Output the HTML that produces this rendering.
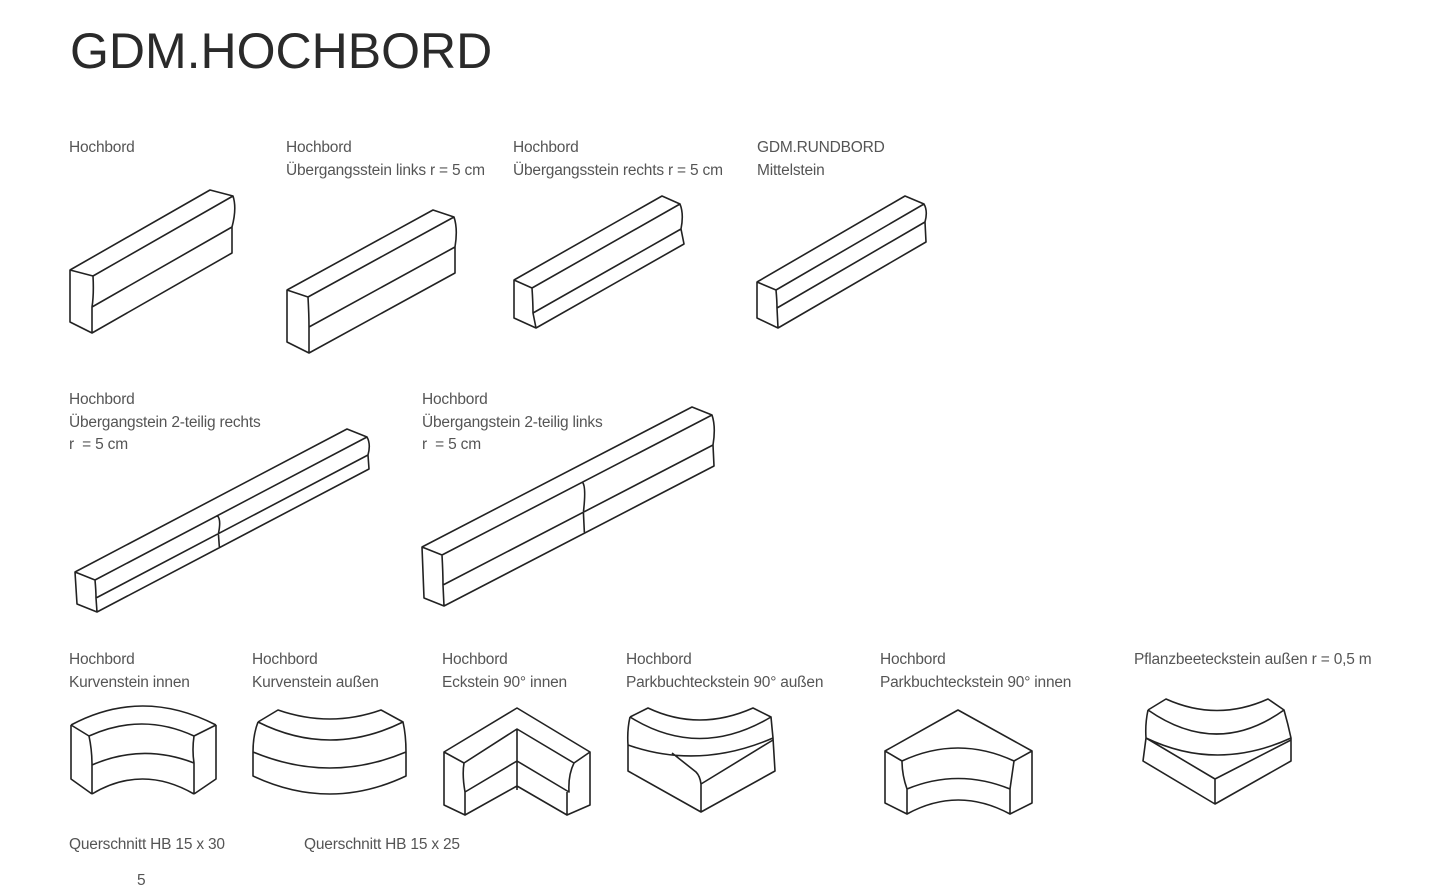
<!DOCTYPE html>
<html><head><meta charset="utf-8"><style>
html,body{margin:0;padding:0;background:#fff;}
body{width:1440px;height:884px;position:relative;overflow:hidden;font-family:"Liberation Sans",sans-serif;}
.t{position:absolute;left:70px;top:22px;font-size:50px;color:#2a2a2a;letter-spacing:0px;font-weight:normal;}
.l{position:absolute;font-size:15.5px;color:#555;line-height:22.5px;white-space:nowrap;letter-spacing:-0.2px;}
svg{position:absolute;left:0;top:0;}
</style></head><body>
<div class="t">GDM.HOCHBORD</div>
<div class="l" style="left:69px;top:137px">Hochbord</div>
<div class="l" style="left:286px;top:137px">Hochbord<br>Übergangsstein links r = 5 cm</div>
<div class="l" style="left:513px;top:137px">Hochbord<br>Übergangsstein rechts r = 5 cm</div>
<div class="l" style="left:757px;top:137px">GDM.RUNDBORD<br>Mittelstein</div>
<div class="l" style="left:69px;top:389px">Hochbord<br>Übergangstein 2-teilig rechts<br>r &nbsp;= 5 cm</div>
<div class="l" style="left:422px;top:389px">Hochbord<br>Übergangstein 2-teilig links<br>r &nbsp;= 5 cm</div>
<div class="l" style="left:69px;top:649px">Hochbord<br>Kurvenstein innen</div>
<div class="l" style="left:252px;top:649px">Hochbord<br>Kurvenstein außen</div>
<div class="l" style="left:442px;top:649px">Hochbord<br>Eckstein 90° innen</div>
<div class="l" style="left:626px;top:649px">Hochbord<br>Parkbuchteckstein 90° außen</div>
<div class="l" style="left:880px;top:649px">Hochbord<br>Parkbuchteckstein 90° innen</div>
<div class="l" style="left:1134px;top:649px">Pflanzbeeteckstein außen r = 0,5 m</div>
<div class="l" style="left:69px;top:834px">Querschnitt HB 15 x 30</div>
<div class="l" style="left:304px;top:834px">Querschnitt HB 15 x 25</div>
<div class="l" style="left:137px;top:870px">5</div>
<svg id="s" width="1440" height="884" viewBox="0 0 1440 884" fill="none" stroke="#222" stroke-width="1.6" stroke-linejoin="round">
<path d="M71 725 Q142 687 216 725 M89 736 Q142 712 194 736 M92 765 Q142 743 194 763 M92 794 Q142 764 194 794 M71 725 L89 736 Q92 750 92 765 L92 794 M216 725 L194 736 Q192 750 194 763 L194 794 M71 725 L71 779 L92 794 M216 725 L216 779 L194 794"/>
<path d="M258 722 L278 710 Q330 728 381 710 L403 722 Q330 758 258 722 M258 722 Q253 735 253 752 Q330 784 406 752 Q406 735 403 722 M253 752 L253 776 Q330 812 406 776 L406 752"/>
<path d="M517 708 L444 752 L464 763 L517 729 L574 763 L590 752 Z M444 752 L444 805 L465 815 L465 792 Q462 775 464 763 M465 792 L517 761 L569 792 Q568 775 574 763 M590 752 L590 805 L567 815 L567 792 M517 729 L517 790 M465 815 L517 786 L567 815"/>
<path d="M630 717 L648 708 Q699 732 753 708 L771 717 Q699 760 630 717 M630 717 Q627 730 628 745 Q699 770 773 738 Q772 728 771 717 M628 745 L628 771 L701 812 L775 771 L773 738 M701 812 L701 784 M672 753 L696 772 Q700 776 701 784 M701 784 L773 740"/>
<path d="M958 710 L885 751 L902 761 Q958 735 1014 761 L1032 751 Z M885 751 L885 803 L907 814 L907 789 Q902 775 902 761 M907 789 Q958 768 1010 789 Q1012 775 1014 761 M1032 751 L1032 803 L1010 814 L1010 789 M907 814 Q958 786 1010 814"/>
<path d="M1148 710 L1166 699 Q1217 722 1268 699 L1284 710 Q1217 758 1148 710 M1148 710 Q1145 724 1146 738 Q1217 772 1291 738 Q1288 724 1284 710 M1146 738 L1143 761 L1215 804 L1291 761 L1291 738 M1215 804 L1215 779 M1146 738 L1215 779 L1291 740"/>
</svg>
<script>
var s=document.getElementById('s'),d='';
function st(A,B,C,D,E,L,j){
 function p(P,k){return [P[0]+L[0]*k,P[1]+L[1]*k];}
 var a=p(A,1),b=p(B,1),c=p(C,1),dd=p(D,1);
 d+='M'+A+' L'+B+' Q'+(B[0]+1)+','+(B[1]+(C[1]-B[1])*0.6)+' '+C+' L'+D+' L'+E+' Z';
 d+=' M'+A+' L'+a+' L'+b+' Q'+(b[0]+4)+','+(b[1]+(c[1]-b[1])*0.4)+' '+c+' L'+dd+' L'+D+' M'+B+' L'+b+' M'+C+' L'+c;
 if(j){var q1=p(B,j),q2=p(C,j),q3=p(D,j);d+=' M'+q1+' Q'+(q1[0]+4)+','+(q1[1]+4)+' '+q2+' L'+q3;}
}
st([70,270],[93,276],[92,307],[92,333],[70,322],[140,-80]);
st([287,290],[308,297],[309,327],[309,353],[287,342],[146,-80]);
st([514,280],[532,288],[533,313],[536,328],[514,318],[148,-84]);
st([757,282],[776,290],[777,308],[778,328],[757,318],[148,-86]);
st([75,572],[95,580],[96,598],[97,612],[77,604],[272,-143],0.45);
st([422,547],[442,555],[443,585],[444,606],[424,598],[270,-140],0.52);
var e=document.createElementNS('http://www.w3.org/2000/svg','path');e.setAttribute('d',d);s.appendChild(e);
</script>
</body></html>
